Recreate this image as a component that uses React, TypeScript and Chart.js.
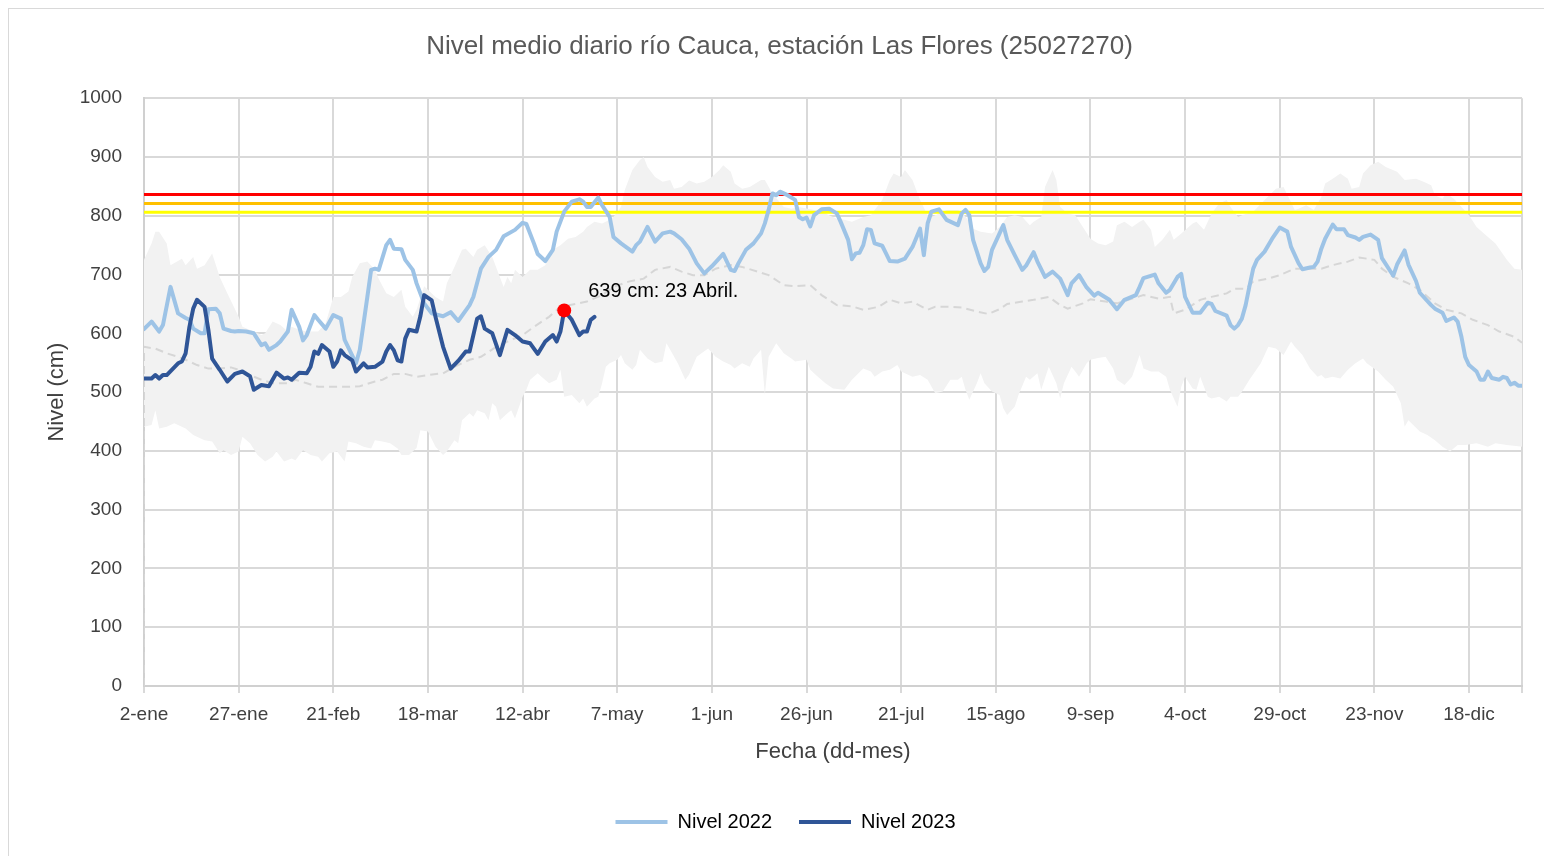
import React, { useEffect, useRef } from 'react';
import { Chart, registerables } from 'chart.js';

Chart.register(...registerables);

const FONT = "'Liberation Sans', Arial, sans-serif";

const chartTitle = 'Nivel medio diario río Cauca, estación Las Flores (25027270)';
const xTitle = 'Fecha (dd-mes)';
const yTitle = 'Nivel (cm)';

// x tick labels, one every 25 days starting at 2-ene (day 0)
const tickLabels = ['2-ene', '27-ene', '21-feb', '18-mar', '12-abr', '7-may', '1-jun', '26-jun', '21-jul', '15-ago', '9-sep', '4-oct', '29-oct', '23-nov', '18-dic'];
const lastDay = 364;

// Nivel 2022
const days2022 = [0, 2, 4, 5, 7, 9, 11, 12, 13, 15, 16, 17, 19, 20, 21, 23, 24, 25, 27, 29, 31, 32, 33, 35, 36, 38, 39, 41, 42, 43, 45, 46, 48, 50, 52, 53, 56, 57, 59, 60, 61, 62, 64, 65, 66, 68, 69, 71, 72, 74, 76, 79, 81, 83, 86, 87, 89, 91, 93, 95, 98, 100, 101, 103, 104, 106, 108, 109, 111, 113, 115, 116, 117, 118, 120, 121, 123, 124, 126, 129, 130, 131, 133, 135, 137, 139, 140, 142, 144, 146, 148, 150, 153, 155, 156, 157, 159, 161, 163, 164, 165, 166, 167, 168, 170, 172, 173, 174, 175, 176, 177, 179, 181, 183, 184, 186, 187, 188, 189, 190, 191, 192, 193, 195, 196, 197, 199, 201, 203, 205, 206, 207, 208, 210, 212, 215, 216, 217, 218, 219, 221, 222, 223, 224, 226, 227, 228, 230, 232, 233, 235, 236, 238, 240, 242, 244, 245, 247, 249, 251, 252, 255, 257, 259, 262, 263, 264, 267, 268, 270, 271, 273, 274, 275, 277, 279, 281, 282, 283, 286, 287, 288, 289, 290, 291, 292, 293, 294, 296, 298, 300, 302, 303, 305, 306, 308, 309, 310, 311, 312, 314, 315, 317, 318, 320, 321, 322, 324, 326, 327, 330, 331, 333, 334, 336, 337, 340, 341, 343, 344, 346, 347, 348, 349, 350, 352, 353, 354, 355, 356, 358, 359, 360, 361, 362, 363, 364];
const level2022 = [607, 620, 603, 614, 679, 634, 626, 623, 608, 600, 600, 641, 642, 634, 608, 604, 603, 604, 603, 600, 580, 583, 572, 580, 586, 603, 640, 611, 588, 597, 631, 623, 608, 631, 625, 589, 549, 572, 662, 708, 710, 708, 750, 759, 744, 743, 725, 708, 685, 651, 634, 629, 636, 621, 648, 662, 710, 730, 742, 765, 776, 788, 786, 753, 735, 723, 742, 773, 807, 824, 828, 824, 815, 815, 831, 818, 798, 764, 753, 739, 750, 756, 781, 756, 770, 773, 770, 760, 744, 719, 702, 714, 735, 708, 706, 719, 742, 753, 770, 787, 810, 838, 835, 841, 835, 827, 798, 794, 797, 782, 801, 811, 812, 804, 790, 759, 726, 736, 737, 750, 777, 776, 753, 749, 736, 723, 722, 727, 747, 778, 733, 787, 807, 811, 793, 784, 804, 810, 801, 759, 719, 706, 713, 742, 770, 784, 759, 733, 708, 715, 738, 722, 696, 705, 693, 665, 685, 699, 678, 664, 669, 657, 641, 657, 665, 679, 694, 700, 685, 669, 674, 696, 701, 662, 635, 635, 652, 650, 638, 630, 614, 608, 614, 625, 648, 680, 710, 725, 739, 761, 780, 773, 747, 719, 709, 712, 713, 722, 744, 761, 785, 777, 777, 767, 763, 759, 764, 768, 759, 728, 698, 717, 741, 717, 689, 669, 648, 642, 635, 621, 627, 620, 594, 560, 546, 535, 521, 521, 535, 524, 521, 526, 524, 513, 516, 511, 511];

// Nivel 2023
const days2023 = [0, 2, 3, 4, 5, 6, 9, 10, 11, 12, 13, 14, 16, 17, 18, 20, 22, 24, 26, 28, 29, 31, 33, 35, 37, 38, 39, 41, 43, 44, 45, 46, 47, 49, 50, 51, 52, 53, 55, 56, 58, 59, 61, 63, 64, 65, 66, 67, 68, 69, 70, 72, 73, 74, 76, 77, 79, 81, 83, 85, 86, 88, 89, 90, 92, 94, 96, 98, 100, 102, 104, 106, 108, 109, 110, 111, 113, 115, 116, 117, 118, 119];
const level2023 = [523, 523, 529, 523, 529, 529, 549, 552, 566, 611, 642, 657, 645, 606, 557, 538, 518, 531, 535, 527, 504, 512, 510, 533, 523, 525, 521, 533, 532, 543, 569, 565, 580, 569, 543, 552, 571, 563, 554, 535, 549, 542, 543, 552, 569, 580, 571, 554, 552, 591, 606, 603, 629, 665, 656, 628, 577, 540, 553, 569, 569, 625, 629, 608, 600, 563, 606, 597, 586, 583, 565, 586, 597, 586, 603, 639, 623, 597, 603, 603, 623, 628];

// Historical envelope (max / min) and mean
const maxDays = [0, 2, 3, 4, 6, 7, 10, 11, 13, 14, 16, 18, 20, 22, 25, 26, 29, 31, 32, 34, 36, 38, 39, 41, 43, 46, 48, 50, 52, 54, 55, 57, 59, 61, 62, 64, 66, 68, 69, 71, 72, 74, 75, 77, 79, 80, 82, 84, 85, 87, 88, 90, 92, 94, 95, 96, 97, 98, 100, 102, 104, 106, 108, 110, 112, 114, 116, 117, 119, 121, 123, 124, 126, 127, 129, 131, 132, 133, 135, 137, 139, 140, 142, 144, 146, 148, 150, 152, 153, 155, 156, 158, 160, 163, 164, 166, 169, 171, 173, 177, 179, 181, 183, 185, 187, 190, 192, 193, 195, 197, 198, 200, 201, 203, 205, 207, 208, 210, 212, 215, 216, 218, 219, 221, 224, 226, 228, 230, 232, 234, 235, 237, 238, 240, 241, 242, 244, 246, 248, 250, 252, 254, 256, 257, 259, 261, 263, 264, 266, 267, 269, 271, 272, 274, 277, 278, 280, 282, 284, 286, 287, 289, 290, 293, 296, 299, 301, 304, 305, 307, 309, 311, 312, 314, 316, 318, 319, 321, 322, 324, 326, 328, 331, 333, 336, 338, 340, 341, 343, 344, 346, 348, 350, 352, 355, 357, 360, 362, 364];
const maxLevel = [725, 753, 773, 773, 753, 716, 727, 716, 730, 710, 716, 736, 696, 668, 628, 611, 603, 597, 600, 620, 614, 603, 611, 606, 603, 603, 617, 662, 662, 671, 696, 719, 722, 708, 693, 668, 662, 674, 645, 628, 640, 680, 674, 662, 654, 685, 713, 742, 744, 730, 742, 750, 730, 696, 679, 696, 685, 708, 696, 708, 708, 716, 742, 750, 761, 764, 773, 781, 790, 787, 793, 798, 815, 844, 878, 895, 900, 883, 866, 858, 861, 846, 849, 860, 855, 858, 866, 878, 886, 875, 855, 846, 849, 861, 861, 838, 815, 812, 815, 810, 807, 801, 795, 793, 790, 798, 801, 810, 827, 861, 872, 866, 878, 861, 827, 801, 798, 804, 810, 810, 807, 790, 778, 773, 770, 781, 798, 801, 798, 784, 790, 798, 849, 878, 861, 815, 804, 801, 781, 761, 753, 750, 756, 784, 790, 781, 790, 793, 776, 747, 759, 776, 759, 770, 787, 790, 776, 804, 821, 827, 815, 798, 801, 807, 827, 846, 849, 810, 812, 818, 810, 832, 855, 863, 872, 863, 846, 849, 872, 886, 892, 883, 875, 861, 863, 858, 852, 835, 829, 838, 829, 815, 801, 781, 764, 753, 725, 710, 708];
const minDays = [0, 2, 3, 4, 6, 8, 9, 11, 13, 14, 16, 18, 20, 21, 23, 25, 26, 28, 30, 32, 34, 35, 37, 39, 40, 42, 44, 46, 47, 49, 51, 53, 54, 56, 58, 60, 61, 63, 65, 67, 68, 70, 72, 73, 75, 77, 79, 80, 82, 83, 84, 86, 87, 88, 90, 91, 92, 93, 94, 96, 97, 98, 100, 101, 102, 104, 105, 107, 109, 110, 111, 113, 115, 116, 117, 119, 120, 121, 122, 123, 125, 126, 127, 129, 130, 131, 133, 135, 137, 138, 139, 141, 143, 144, 146, 149, 151, 153, 155, 156, 158, 160, 161, 163, 164, 165, 167, 169, 171, 172, 175, 176, 178, 180, 182, 185, 187, 190, 192, 193, 195, 197, 199, 200, 203, 205, 207, 209, 211, 213, 215, 216, 217, 218, 220, 221, 222, 224, 226, 227, 228, 230, 231, 233, 234, 236, 237, 239, 241, 242, 243, 245, 246, 247, 249, 250, 252, 254, 256, 257, 259, 261, 263, 264, 266, 268, 270, 271, 273, 274, 275, 277, 278, 279, 281, 282, 284, 286, 287, 289, 290, 292, 295, 297, 299, 301, 303, 304, 306, 308, 310, 311, 312, 314, 316, 318, 320, 322, 323, 326, 328, 330, 332, 333, 334, 337, 339, 341, 343, 345, 347, 349, 352, 355, 357, 360, 363, 364];
const minLevel = [441, 444, 469, 438, 441, 447, 444, 438, 427, 424, 418, 416, 396, 401, 393, 399, 424, 413, 393, 382, 390, 399, 382, 387, 384, 401, 393, 390, 382, 396, 399, 382, 416, 413, 407, 404, 418, 416, 413, 404, 393, 393, 405, 435, 433, 407, 393, 399, 418, 413, 452, 464, 458, 469, 464, 452, 481, 475, 452, 464, 469, 455, 492, 504, 521, 532, 526, 515, 521, 538, 492, 495, 481, 489, 475, 489, 492, 515, 543, 549, 555, 563, 549, 538, 546, 572, 557, 549, 552, 583, 572, 549, 521, 530, 560, 574, 560, 552, 546, 540, 549, 543, 557, 572, 495, 560, 583, 566, 557, 552, 555, 538, 526, 515, 506, 504, 521, 540, 535, 526, 535, 538, 546, 535, 526, 529, 521, 498, 501, 521, 521, 526, 504, 487, 515, 532, 515, 501, 495, 472, 461, 475, 495, 526, 521, 532, 504, 543, 515, 489, 515, 543, 535, 526, 549, 555, 558, 560, 540, 521, 512, 526, 563, 540, 535, 535, 526, 504, 475, 509, 526, 506, 504, 526, 492, 489, 492, 484, 492, 492, 500, 521, 549, 577, 574, 563, 586, 577, 563, 540, 526, 529, 523, 526, 523, 538, 549, 557, 549, 535, 521, 509, 481, 441, 452, 433, 427, 418, 407, 399, 410, 410, 413, 407, 413, 410, 408, 407];
const meanDays = [0, 0, 3, 6, 9, 11, 14, 17, 20, 23, 25, 28, 31, 34, 38, 40, 43, 46, 49, 54, 57, 61, 63, 66, 69, 72, 75, 79, 82, 86, 89, 93, 96, 100, 103, 107, 110, 114, 117, 121, 124, 128, 132, 135, 139, 142, 145, 148, 151, 155, 158, 162, 165, 169, 172, 176, 179, 183, 187, 190, 194, 197, 200, 203, 207, 209, 213, 216, 220, 223, 226, 228, 232, 235, 239, 242, 244, 248, 250, 254, 257, 261, 264, 268, 271, 272, 275, 279, 282, 286, 288, 291, 293, 297, 300, 304, 307, 311, 314, 318, 321, 325, 327, 330, 334, 337, 341, 344, 348, 351, 355, 358, 362, 364];
const meanLevel = [0, 577, 574, 566, 560, 555, 546, 540, 540, 542, 538, 529, 521, 515, 515, 521, 515, 509, 509, 509, 510, 518, 521, 531, 531, 526, 529, 532, 543, 555, 560, 577, 586, 597, 611, 628, 645, 650, 654, 665, 679, 688, 693, 708, 713, 705, 699, 699, 710, 716, 713, 705, 699, 682, 680, 682, 665, 648, 646, 640, 645, 657, 651, 654, 640, 645, 645, 644, 637, 633, 641, 650, 654, 657, 662, 648, 642, 651, 658, 654, 651, 659, 665, 659, 662, 634, 640, 657, 662, 668, 676, 676, 688, 693, 699, 710, 710, 710, 716, 722, 729, 725, 710, 696, 685, 674, 651, 640, 634, 623, 614, 603, 594, 584];

// Alert thresholds (cm)
const thresholdNames = ['Umbral rojo', 'Umbral naranja', 'Umbral amarillo'];
const thresholdValues = [836, 821, 806];
const thresholdColors = ['#ff0000', '#ffc000', '#ffff00'];

// Highlighted 2023 value
const peakDay = 111;
const peakLevel = 639;
const peakLabel = '639 cm: 23 Abril.';

const legendNames = ['Nivel 2022', 'Nivel 2023'];

const toPoints = (xs: number[], ys: number[]) => xs.map((x, i) => ({ x, y: ys[i] }));

export default function App() {
  const canvasRef = useRef<HTMLCanvasElement | null>(null);

  useEffect(() => {
    document.documentElement.style.overflow = 'hidden';
    document.body.style.overflow = 'hidden';
    const canvas = canvasRef.current;
    if (!canvas) return;

    const PEAK_INDEX = 8;

    const peakLabelPlugin = {
      id: 'peakLabel',
      afterLayout(chart: any) {
        if (chart.legend) {
          chart.legend.left += 20;
          chart.legend.right += 20;
        }
        if (chart.titleBlock) {
          chart.titleBlock.left += 14;
          chart.titleBlock.right += 14;
        }
      },
      afterDatasetsDraw(chart: any) {
        const meta = chart.getDatasetMeta(PEAK_INDEX);
        const pt = meta && meta.data && meta.data[0];
        if (!pt) return;
        const c = chart.ctx;
        c.save();
        c.font = `20px ${FONT}`;
        c.fillStyle = '#000000';
        c.textAlign = 'left';
        c.textBaseline = 'middle';
        c.fillText(peakLabel, pt.x + 24, pt.y - 19);
        c.restore();
      },
    };

    const thresholdSets = thresholdValues.map((v, i) => ({
      label: thresholdNames[i],
      data: [{ x: 0, y: v }, { x: lastDay, y: v }],
      borderColor: thresholdColors[i],
      backgroundColor: thresholdColors[i],
      borderWidth: 3,
      pointRadius: 0,
      fill: false,
      order: 8,
    }));

    const chart = new Chart(canvas, {
      type: 'line',
      data: {
        datasets: [
          {
            label: 'Máximo histórico',
            data: toPoints(maxDays, maxLevel),
            borderColor: 'rgba(0,0,0,0)',
            backgroundColor: '#f2f2f2',
            borderWidth: 0,
            pointRadius: 0,
            fill: '+1',
            order: 10,
          },
          {
            label: 'Mínimo histórico',
            data: toPoints(minDays, minLevel),
            borderColor: 'rgba(0,0,0,0)',
            backgroundColor: '#f2f2f2',
            borderWidth: 0,
            pointRadius: 0,
            fill: false,
            order: 10,
          },
          {
            label: 'Promedio histórico',
            data: toPoints(meanDays, meanLevel),
            borderColor: '#d6d6d6',
            backgroundColor: '#d6d6d6',
            borderWidth: 2,
            borderDash: [8, 5],
            pointRadius: 0,
            fill: false,
            order: 9,
          },
          ...thresholdSets,
          {
            label: 'Nivel 2022',
            data: toPoints(days2022, level2022),
            borderColor: '#9dc3e6',
            backgroundColor: '#9dc3e6',
            borderWidth: 4,
            pointRadius: 0,
            fill: false,
            borderJoinStyle: 'round',
            borderCapStyle: 'round',
            order: 3,
          },
          {
            label: 'Nivel 2023',
            data: toPoints(days2023, level2023),
            borderColor: '#2f5597',
            backgroundColor: '#2f5597',
            borderWidth: 4,
            pointRadius: 0,
            fill: false,
            borderJoinStyle: 'round',
            borderCapStyle: 'round',
            order: 2,
          },
          {
            label: 'Valor destacado',
            data: [{ x: peakDay, y: peakLevel }],
            borderColor: '#ff0000',
            backgroundColor: '#ff0000',
            borderWidth: 0,
            pointRadius: 7,
            showLine: false,
            fill: false,
            order: 1,
          },
        ] as any,
      },
      options: {
        animation: false,
        responsive: true,
        maintainAspectRatio: false,
        events: [],
        layout: { padding: { left: 0, right: 27, top: 0, bottom: 17 } },
        elements: { line: { tension: 0 } },
        plugins: {
          tooltip: { enabled: false },
          title: {
            display: true,
            text: chartTitle,
            color: '#595959',
            font: { family: FONT, size: 26, weight: 'normal' },
            padding: { top: 22, bottom: 36 },
          },
          legend: {
            display: true,
            position: 'bottom',
            labels: {
              boxWidth: 52,
              boxHeight: 4,
              padding: 27,
              color: '#000000',
              font: { family: FONT, size: 20 },
              filter: (item: any) => legendNames.includes(item.text),
              sort: (a: any, b: any) => a.datasetIndex - b.datasetIndex,
              generateLabels: (ch: any) =>
                (Chart.defaults.plugins.legend.labels as any)
                  .generateLabels(ch)
                  .map((l: any) => ({ ...l, lineWidth: 0, fillStyle: l.strokeStyle })),
            },
          },
        },
        scales: {
          x: {
            type: 'linear',
            min: 0,
            max: lastDay,
            afterBuildTicks: (scale: any) => {
              const vals = tickLabels.map((_, i) => i * 25);
              vals.push(lastDay);
              scale.ticks = vals.map((v) => ({ value: v }));
            },
            afterFit: (scale: any) => {
              scale.height = 99;
            },
            ticks: {
              autoSkip: false,
              maxRotation: 0,
              minRotation: 0,
              padding: 10,
              color: '#404040',
              font: { family: FONT, size: 19 },
              callback: (value: any) => {
                const v = Number(value);
                return v % 25 === 0 && v / 25 < tickLabels.length ? tickLabels[v / 25] : '';
              },
            },
            grid: {
              color: '#d9d9d9',
              lineWidth: 2,
              drawTicks: true,
              tickLength: 7,
              tickColor: '#d9d9d9',
            },
            border: { display: true, color: '#d0d0d0', width: 2 },
            title: {
              display: true,
              text: xTitle,
              color: '#404040',
              font: { family: FONT, size: 22 },
              padding: { top: 20, bottom: 20 },
            },
          },
          y: {
            type: 'linear',
            min: 0,
            max: 1000,
            afterFit: (scale: any) => {
              scale.width = 135;
            },
            ticks: {
              stepSize: 100,
              padding: 22,
              color: '#404040',
              font: { family: FONT, size: 19 },
              callback: (value: any) => String(value),
            },
            grid: {
              color: '#d9d9d9',
              lineWidth: 2,
              drawTicks: false,
            },
            border: { display: true, color: '#d0d0d0', width: 2 },
            title: {
              display: true,
              text: yTitle,
              color: '#404040',
              font: { family: FONT, size: 22 },
              padding: { top: 35, bottom: 0 },
            },
          },
        },
      } as any,
      plugins: [peakLabelPlugin],
    });

    return () => {
      chart.destroy();
    };
  }, []);

  return (
    <div
      style={{
        position: 'relative',
        width: 1542,
        height: 852,
        boxSizing: 'border-box',
        border: '1px solid #d9d9d9',
        background: '#ffffff',
      }}
    >
      <canvas ref={canvasRef} />
    </div>
  );
}
